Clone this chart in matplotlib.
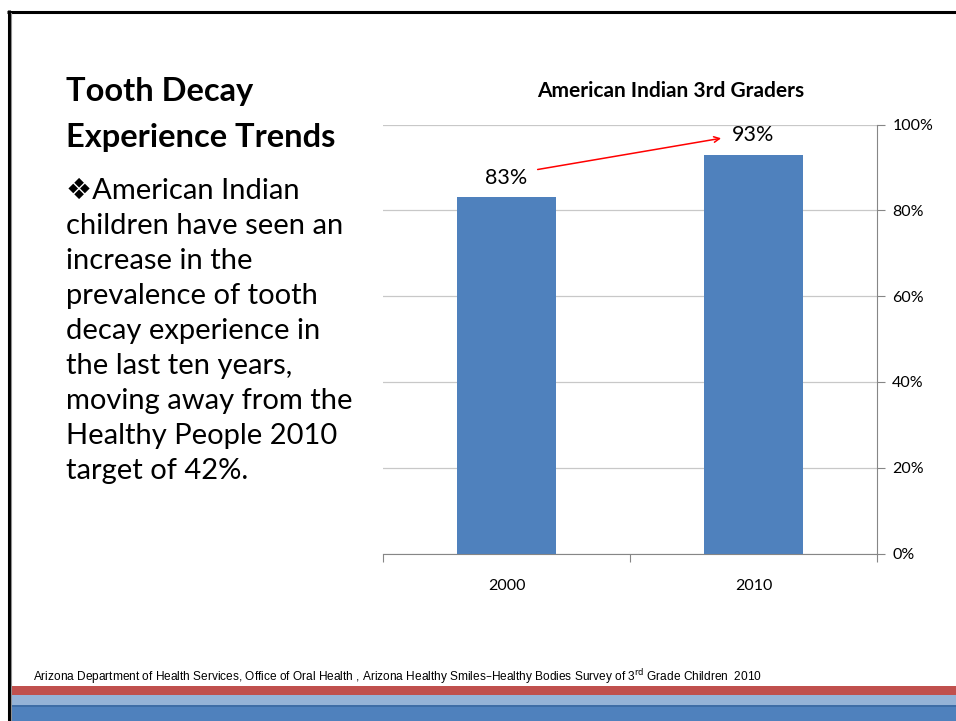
import matplotlib.pyplot as plt
from matplotlib.patches import Rectangle
from matplotlib.lines import Line2D

W, H = 956, 721

years = ["2000", "2010"]
pct = [83, 93]
yticks = [0, 20, 40, 60, 80, 100]

heading = ["Tooth Decay", "Experience Trends"]
body = ["\u2756American Indian",
        "children have seen an",
        "increase in the",
        "prevalence of tooth",
        "decay experience in",
        "the last ten years,",
        "moving away from the",
        "Healthy People 2010",
        "target of 42%."]
source = ("Arizona Department of Health Services, Office of Oral Health , "
          "Arizona Healthy Smiles\u2013Healthy Bodies Survey of 3$^{\\mathrm{rd}}$ Grade Children  2010")

plt.rcParams['font.family'] = ['Lato', 'DejaVu Sans']
plt.rcParams['mathtext.default'] = 'regular'

fig = plt.figure(figsize=(W / 100, H / 100), dpi=100)


def fx(px):
    return px / W


def fy(py):
    return 1 - py / H


# slide frame
fig.add_artist(Line2D([fx(7), 1], [fy(11.5), fy(11.5)], color='black', lw=2.2,
                      solid_capstyle='butt'))
fig.add_artist(Line2D([fx(8.5), fx(8.5)], [fy(10), 0], color='black', lw=2.2,
                      solid_capstyle='butt'))
fig.add_artist(Line2D([fx(10.5), fx(10.5)], [fy(13), 0], color='#909090', lw=0.8))

# bottom bands
bands = [(686, 695, '#C0504D'), (695, 705, '#95B3D7'),
         (705, 707, '#3E6DA6'), (707, 721, '#4F81BD')]
for top, bot, col in bands:
    fig.add_artist(Rectangle((fx(10), fy(bot)), 1 - fx(10), (bot - top) / H,
                             transform=fig.transFigure, color=col, lw=0))

# left text
for i, line in enumerate(heading):
    fig.text(fx(66), fy(92 + i * 45), line, fontsize=23.5, fontweight='bold',
             va='center', ha='left')
for i, line in enumerate(body):
    fig.text(fx(66), fy(191 + i * 35), line, fontsize=21,
             va='center', ha='left', family=['Lato', 'DejaVu Sans'])

fig.text(fx(33), fy(677), source, fontsize=8.6, va='center', ha='left',
         family=['Liberation Sans Narrow', 'Liberation Sans', 'DejaVu Sans'])

# chart
ax = fig.add_axes([fx(383), fy(553.5), (877 - 383) / W, (553.5 - 124.5) / H])
x = list(range(len(years)))
ax.bar(x, pct, width=0.4, color='#4F81BD', zorder=3)
ax.set_xlim(-0.5, 1.5)
ax.set_ylim(0, 100)
ax.yaxis.tick_right()
ax.set_yticks(yticks)
ax.set_yticklabels([f"{v}%" for v in yticks], fontsize=11.5)
ax.set_xticks([-0.5, 0.5, 1.5])
ax.set_xticklabels([])
ax.set_xticks(x, minor=True)
ax.set_xticklabels(years, minor=True, fontsize=11.5)
ax.tick_params(axis='x', which='major', length=6, color='#868686', direction='out')
ax.tick_params(axis='x', which='minor', length=0, pad=18)
ax.tick_params(axis='y', length=6, color='#868686', pad=5)
ax.grid(axis='y', color='#C8C8C8', lw=0.9, zorder=0)
for s in ['top', 'left']:
    ax.spines[s].set_visible(False)
for s in ['bottom', 'right']:
    ax.spines[s].set_color('#868686')

fig.text(fx(671), fy(91), "American Indian 3rd Graders", fontsize=15,
         fontweight='bold', ha='center', va='center')

for xi, v in zip(x, pct):
    ax.text(xi, v + 2.3, f"{v}%", ha='center', va='bottom', fontsize=15.5)

ax.annotate("", xy=(0.88, 96.9), xytext=(0.115, 89.4),
            arrowprops=dict(arrowstyle='->', color='red', lw=1.1),
            annotation_clip=False)

fig.savefig("out.png", dpi=100)
